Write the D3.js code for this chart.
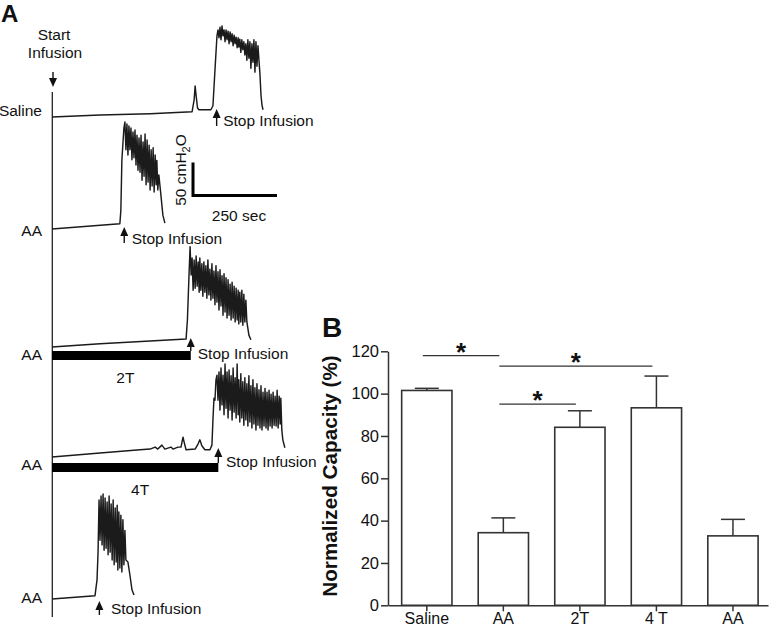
<!DOCTYPE html>
<html><head><meta charset="utf-8">
<script src="https://cdn.jsdelivr.net/npm/d3@7/dist/d3.min.js"></script>
<style>
html,body{margin:0;padding:0;background:#fff;}
text{font-family:"Liberation Sans",Arial,sans-serif;fill:#111;}
</style></head>
<body><svg id="chart" width="771" height="628"></svg>
<script>
// ---------- Panel B data ----------
const categories = ["Saline", "AA", "2T", "4 T", "AA"];
const means = [101.5, 34.3, 84.1, 93.3, 32.8];
const errors = [1.0, 7.0, 7.8, 15.0, 7.8];
const yTicks = [0, 20, 40, 60, 80, 100, 120];
const sigPairs = [[0, 1], [1, 3], [1, 2]];
const sigLevels = [118, 113, 95];

// ---------- Panel A data (time s, pressure cmH2O) ----------
const traceLabels = ["Saline", "AA", "AA", "AA", "AA"];
const treatLabels = [null, null, "2T", "4T", null];
const stopTimes = [490, 215, 413, 495, 141];
const traceSaline = [[0,0],[143,3],[292,5],[417,8],[423,26],[426,47],[429,32],[433,14],[437,11],[473,11],[479,17],[485,71],[491,123],
 [494,132],[497,120],[500,136],[503,117],[506,138],[509,123],[512,132],[515,114],[518,132],[521,117],[524,130],[527,111],[530,129],[533,114],
 [536,126],[539,108],[542,124],[545,111],[548,121],[551,105],[554,120],[556,106],[559,118],[562,98],[565,117],[568,102],[571,114],[574,94],
 [577,111],[580,86],[583,117],[586,89],[589,114],[592,74],[595,111],[598,83],[601,117],[604,68],[607,114],[610,77],[613,108],[616,86],
 [619,64],[622,33],[625,18],[628,11]];
const traceAA1 = [[0,0],[202,8],[205,29],[208,105],[214,153],[217,162],[220,120],[223,159],[226,112],[229,156],[232,120],[235,153],[238,105],
 [241,147],[244,108],[247,150],[250,97],[253,142],[256,89],[259,138],[262,86],[265,142],[268,74],[271,132],[274,80],[277,144],[280,67],
 [283,135],[286,71],[289,127],[292,59],[295,120],[298,65],[301,123],[304,56],[307,112],[310,67],[312,104],[315,59],[318,82],[324,52],[330,21],[336,9]];
const trace2T = [[0,0],[143,5],[292,9],[399,12],[403,41],[408,112],[411,152],[414,109],[417,135],[420,86],[423,132],[426,89],[429,138],[432,92],
 [435,129],[438,83],[440,135],[443,86],[446,126],[449,77],[452,129],[455,83],[458,123],[461,74],[464,132],[467,79],[470,118],[473,71],[476,126],
 [479,74],[482,115],[485,64],[488,123],[491,68],[494,114],[497,56],[500,117],[503,62],[506,108],[509,48],[512,111],[515,53],[518,105],[521,44],
 [524,102],[527,48],[530,95],[533,41],[536,98],[539,44],[542,92],[545,38],[548,89],[551,41],[554,86],[556,35],[559,83],[562,38],[565,86],
 [568,33],[571,80],[574,38],[577,71],[580,38],[586,18],[592,11]];
const trace4T = [[0,0],[143,6],[262,11],[292,12],[307,15],[315,12],[327,18],[336,12],[354,15],[360,12],[375,15],[384,15],[387,23],[390,30],
 [393,23],[399,11],[426,12],[435,20],[440,26],[446,17],[455,11],[470,11],[476,18],[479,56],[482,89],[485,86],[488,117],[491,124],
 [494,86],[497,129],[500,71],[503,135],[506,79],[509,124],[512,64],[515,141],[518,74],[521,129],[524,59],[527,132],[530,71],[533,123],
 [536,56],[539,135],[542,68],[545,120],[548,59],[551,141],[554,64],[556,117],[559,53],[562,126],[565,59],[568,114],[571,48],[574,120],
 [577,56],[580,111],[583,47],[586,123],[589,53],[592,108],[595,44],[598,117],[601,50],[604,105],[607,41],[610,111],[613,48],[616,102],
 [619,44],[622,108],[625,41],[628,98],[631,47],[634,104],[637,44],[640,98],[643,41],[646,101],[649,47],[652,95],[655,44],[658,98],
 [661,48],[664,92],[667,47],[670,101],[673,44],[676,92],[679,50],[681,89],[684,41],[687,26],[693,14]];
const traceAA2 = [[0,0],[128,5],[134,29],[137,70],[140,150],[143,89],[146,156],[149,82],[152,159],[155,74],[158,153],[161,77],[164,147],
 [167,67],[170,156],[173,71],[176,144],[179,59],[182,150],[185,52],[188,138],[191,56],[194,142],[196,44],[199,132],[202,47],[205,127],
 [208,41],[211,120],[214,52],[217,104],[220,59],[226,56],[232,36],[238,14],[244,6]];
const traces = [traceSaline, traceAA1, trace2T, trace4T, traceAA2];

// ---------- drawing ----------
const svg = d3.select("#chart");
svg.append("rect").attr("width", 771).attr("height", 628).attr("fill", "#fff");
const FS = 15.5;

// Panel A
const A = svg.append("g");
A.append("text").attr("x", 1).attr("y", 22).attr("font-size", 24).attr("font-weight", "bold").text("A");
const tx = d3.scaleLinear().domain([0, 250]).range([52, 136]);
const pyLen = d3.scaleLinear().domain([0, 50]).range([0, 33]);
const baselines = [117, 229, 347, 457, 599];

function arrow(g, x, yTip, yTail) {
  const dir = yTail > yTip ? 1 : -1;
  g.append("line").attr("x1", x).attr("x2", x).attr("y1", yTip + dir * 6).attr("y2", yTail)
    .attr("stroke", "#111").attr("stroke-width", 1.4);
  g.append("path").attr("d", `M${x},${yTip} L${x - 4},${yTip + dir * 9} L${x + 4},${yTip + dir * 9} Z`).attr("fill", "#111");
}

// start infusion
A.append("text").attr("x", 54).attr("y", 39.5).attr("text-anchor", "middle").attr("font-size", FS).text("Start");
A.append("text").attr("x", 55).attr("y", 57.5).attr("text-anchor", "middle").attr("font-size", FS).text("Infusion");
arrow(A, 53, 87, 72);
A.append("line").attr("x1", 52.3).attr("x2", 52.3).attr("y1", 92).attr("y2", 617).attr("stroke", "#222").attr("stroke-width", 1.3);

const line = d3.line().curve(d3.curveLinear);
traces.forEach((tr, i) => {
  const b = baselines[i];
  A.append("path").attr("d", line(tr.map(d => [tx(d[0]), b - pyLen(d[1])])))
    .attr("fill", "none").attr("stroke", "#1b1b1b").attr("stroke-width", 1.45).attr("stroke-linejoin", "round");
});

// labels, treatment bars, stop arrows
const labelY = [115.5, 235.5, 359.5, 469.5, 603];
const stopTip = [109, 227, 338, 448, 601];
const stopTail = [126, 243, 351, 463, 615];
const stopTextY = [125.5, 244, 359, 466.5, 614];
const stopTextDx = [6.5, 7.5, 7, 7.7, 11.5];
traceLabels.forEach((lab, i) => {
  A.append("text").attr("x", 42).attr("y", labelY[i]).attr("text-anchor", "end").attr("font-size", FS).text(lab);
  const sx = tx(stopTimes[i]);
  arrow(A, sx, stopTip[i], stopTail[i]);
  A.append("text").attr("x", sx + stopTextDx[i]).attr("y", stopTextY[i]).attr("font-size", FS).text("Stop Infusion");
  if (treatLabels[i]) {
    A.append("rect").attr("x", tx(0)).attr("y", stopTail[i]).attr("width", sx - tx(0)).attr("height", 9).attr("fill", "#000");
    A.append("text").attr("x", (tx(0) + sx) / 2 + (i === 2 ? 4 : 5)).attr("y", stopTail[i] + 31.5).attr("text-anchor", "middle")
      .attr("font-size", FS).text(treatLabels[i]);
  }
});

// scale bar
const sbx = 193, sby = 195.5;
A.append("path").attr("d", `M${sbx},${sby - pyLen(50)} L${sbx},${sby} L${sbx + tx(250) - tx(0)},${sby}`)
  .attr("fill", "none").attr("stroke", "#000").attr("stroke-width", 3);
const sbt = A.append("text").attr("transform", "translate(186,170) rotate(-90)").attr("text-anchor", "middle").attr("font-size", FS);
sbt.append("tspan").text("50 cmH");
sbt.append("tspan").attr("font-size", 11).attr("dy", 4).text("2");
sbt.append("tspan").attr("dy", -4).text("O");
A.append("text").attr("x", 239).attr("y", 220.5).attr("text-anchor", "middle").attr("font-size", FS).text("250 sec");

// Panel B
const B = svg.append("g");
B.append("text").attr("x", 322).attr("y", 337).attr("font-size", 28).attr("font-weight", "bold").text("B");
const x = d3.scaleBand().domain(d3.range(categories.length)).range([388, 768]).paddingInner(0.343).paddingOuter(0.154).align(0.58);
const y = d3.scaleLinear().domain([0, 120]).range([605.3, 351.3]);
const axisColor = "#333";

const yAxis = B.append("g").attr("transform", "translate(388,0)")
  .call(d3.axisLeft(y).tickValues(yTicks).tickSize(7).tickSizeOuter(0).tickPadding(2));
yAxis.selectAll("text").attr("font-size", 16.5).attr("font-family", "Liberation Sans, Arial, sans-serif").attr("fill", "#111");
const xAxis = B.append("g").attr("transform", "translate(0,605.3)")
  .call(d3.axisBottom(x).tickFormat(i => categories[i]).tickSize(6).tickSizeOuter(0).tickPadding(1.5));
xAxis.selectAll("text").attr("font-size", 16).attr("font-family", "Liberation Sans, Arial, sans-serif").attr("fill", "#111");
[yAxis, xAxis].forEach(g => { g.selectAll("path,line").attr("stroke", axisColor).attr("stroke-width", 1.5); });

// bars
B.selectAll("rect.bar").data(means).enter().append("rect").attr("class", "bar")
  .attr("x", (d, i) => x(i)).attr("width", x.bandwidth())
  .attr("y", d => y(d)).attr("height", d => y(0) - y(d))
  .attr("fill", "#fff").attr("stroke", axisColor).attr("stroke-width", 1.6);
// error bars
means.forEach((m, i) => {
  const cx = x(i) + x.bandwidth() / 2;
  B.append("line").attr("x1", cx).attr("x2", cx).attr("y1", y(m)).attr("y2", y(m + errors[i])).attr("stroke", axisColor).attr("stroke-width", 1.5);
  B.append("line").attr("x1", cx - 12).attr("x2", cx + 12).attr("y1", y(m + errors[i])).attr("y2", y(m + errors[i])).attr("stroke", axisColor).attr("stroke-width", 1.5);
});
// significance
sigPairs.forEach((p, k) => {
  const x1 = x(p[0]) + x.bandwidth() / 2 - 4, x2 = x(p[1]) + x.bandwidth() / 2 - 4;
  const yy = y(sigLevels[k]);
  B.append("line").attr("x1", x1).attr("x2", x2).attr("y1", yy).attr("y2", yy).attr("stroke", axisColor).attr("stroke-width", 1.2);
  B.append("text").attr("x", (x1 + x2) / 2).attr("y", yy + 5).attr("text-anchor", "middle").attr("font-size", 26).attr("font-weight", "bold").text("*");
});

// y title
B.append("text").attr("transform", "translate(337,476) rotate(-90)").attr("text-anchor", "middle")
  .attr("font-size", 20.7).attr("font-weight", "bold").text("Normalized Capacity (%)");
</script></body></html>
